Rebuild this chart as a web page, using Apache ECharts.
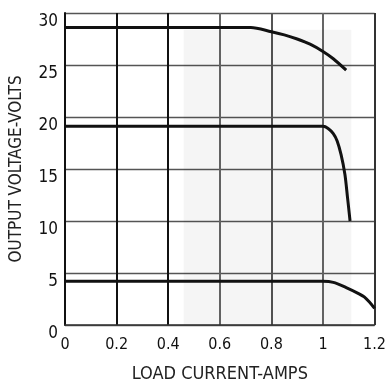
<!DOCTYPE html>
<html>
<head>
<meta charset="utf-8">
<script src="https://cdn.jsdelivr.net/npm/echarts@6/dist/echarts.min.js"></script>
<style>
  html, body { margin: 0; padding: 0; background: #fff; }
  #chart { width: 389px; height: 388px; }
</style>
</head>
<body>
<div id="chart"></div>
<script>
// load current (A) / output voltage (V)
const curve28 = [[0, 28.6], [0.72, 28.6], [0.8, 28.2], [0.85, 27.9], [0.9, 27.5],
  [0.95, 27.0], [1.0, 26.3], [1.04, 25.6], [1.09, 24.5]];
const curve19 = [[0, 19.1], [1.0, 19.1], [1.02, 18.9], [1.04, 18.4], [1.055, 17.7],
  [1.07, 16.4], [1.085, 14.5], [1.095, 12.3], [1.105, 10.0]];
const curve4 = [[0, 4.2], [1.0, 4.2], [1.04, 4.1], [1.09, 3.6], [1.14, 3.0],
  [1.16, 2.7], [1.18, 2.2], [1.2, 1.6]];
// faint shaded band in the scan
const shadeBand = [0.46, 1.11];

const font = '"Liberation Sans Narrow", "DejaVu Sans Condensed", sans-serif';

const chart = echarts.init(document.getElementById('chart'));

function line(data) {
  return {
    type: 'line',
    data: data,
    showSymbol: false,
    smooth: 0.3,
    lineStyle: { color: '#111', width: 3 },
    z: 5
  };
}

const series = [line(curve28), line(curve19), line(curve4)];
series[0].markArea = {
  silent: true,
  itemStyle: { color: 'rgba(0,0,0,0.04)' },
  data: [[{ xAxis: shadeBand[0], yAxis: 0 }, { xAxis: shadeBand[1], yAxis: 28.4 }]]
};

chart.setOption({
  animation: false,
  grid: { left: 64, right: 7, top: 13, bottom: 56 },
  xAxis: {
    type: 'value',
    min: 0,
    max: 1.2,
    interval: 0.2,
    name: 'LOAD CURRENT-AMPS',
    nameLocation: 'middle',
    nameGap: 40,
    nameTextStyle: { fontFamily: font, fontSize: 18, color: '#222' },
    axisLine: { lineStyle: { color: '#333', width: 1.5 } },
    axisTick: { show: false },
    axisLabel: {
      margin: 12,
      fontFamily: font,
      fontSize: 16,
      color: '#111',
      formatter: v => String(Math.round(v * 10) / 10)
    },
    splitLine: {
      lineStyle: { color: ['#222', '#111', '#111', '#666', '#555', '#666', '#333'], width: 2 }
    }
  },
  yAxis: {
    type: 'value',
    min: 0,
    max: 30,
    interval: 5,
    name: 'OUTPUT VOLTAGE-VOLTS',
    nameLocation: 'middle',
    nameGap: 40,
    nameTextStyle: { fontFamily: font, fontSize: 17, color: '#222' },
    axisLine: { lineStyle: { color: '#111', width: 2 } },
    axisTick: { show: false },
    axisLabel: {
      margin: 7,
      verticalAlign: 'top',
      fontFamily: font,
      fontSize: 17,
      color: '#111'
    },
    splitLine: { lineStyle: { color: '#555', width: 1.3 } }
  },
  series: series
});
</script>
</body>
</html>
